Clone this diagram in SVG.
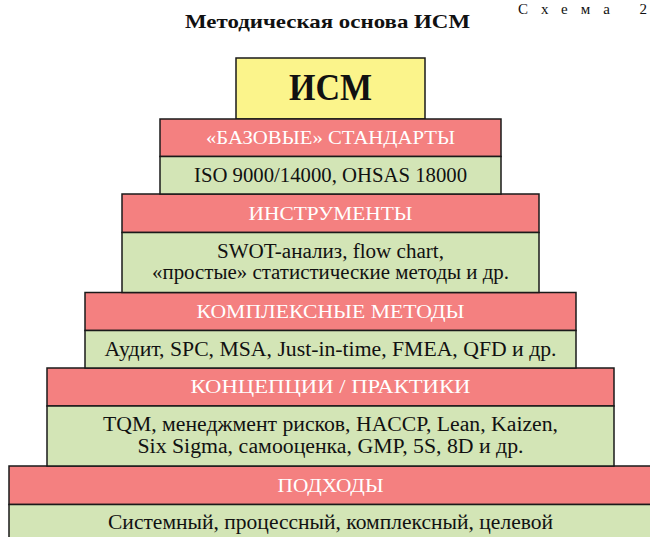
<svg xmlns="http://www.w3.org/2000/svg" width="650" height="537" viewBox="0 0 650 537">
<style>
.red{fill:#F48080;stroke:#1a1a1a;stroke-width:1.5}
.grn{fill:#D3E5B6;stroke:#1a1a1a;stroke-width:1.5}
.yel{fill:#FBF48B;stroke:#1a1a1a;stroke-width:1.5}
.hd{font-family:"Liberation Serif",serif;font-size:19.5px;fill:#ffffff;text-anchor:middle}
.tx{font-family:"Liberation Serif",serif;font-size:20px;fill:#111111;text-anchor:middle}
.tt{font-family:"Liberation Serif",serif;font-weight:bold;fill:#111111}
.sc{font-family:"Liberation Serif",serif;font-size:15px;fill:#111111}
</style>
<rect width="650" height="537" fill="#ffffff"/>
<text class="sc" x="518" y="14" textLength="129" lengthAdjust="spacing">Схема 2</text>
<text class="tt" x="185" y="28" font-size="19.5" textLength="285" lengthAdjust="spacingAndGlyphs">Методическая  основа  ИСМ</text>
<g id="ism">
<rect class="yel" x="236" y="58" width="189" height="61"/>
<text class="tt" x="330.5" y="100" font-size="37" text-anchor="middle" textLength="83" lengthAdjust="spacingAndGlyphs">ИСМ</text>
</g>
<g id="level5">
<rect class="red" x="9" y="466" width="660" height="38.5"/>
<rect class="grn" x="9" y="504.5" width="660" height="40"/>
<text class="hd" x="330.5" y="492" textLength="106" lengthAdjust="spacingAndGlyphs">ПОДХОДЫ</text>
<text class="tx" x="330.5" y="529" textLength="445" lengthAdjust="spacingAndGlyphs">Системный, процессный, комплексный, целевой</text>
</g>
<g id="level4">
<rect class="red" x="47" y="368" width="567" height="38"/>
<rect class="grn" x="47" y="406" width="567" height="60"/>
<text class="hd" x="330.5" y="393" textLength="280" lengthAdjust="spacingAndGlyphs">КОНЦЕПЦИИ / ПРАКТИКИ</text>
<text class="tx" x="330.5" y="431" textLength="455" lengthAdjust="spacingAndGlyphs">TQM, менеджмент рисков, HACCP, Lean, Kaizen,</text>
<text class="tx" x="330.5" y="453" textLength="386" lengthAdjust="spacingAndGlyphs">Six Sigma, самооценка, GMP, 5S, 8D и др.</text>
</g>
<g id="level3">
<rect class="red" x="85" y="292.5" width="491" height="38"/>
<rect class="grn" x="85" y="330.5" width="491" height="37.5"/>
<text class="hd" x="330.5" y="318" textLength="268" lengthAdjust="spacingAndGlyphs">КОМПЛЕКСНЫЕ МЕТОДЫ</text>
<text class="tx" x="330.5" y="356" textLength="452" lengthAdjust="spacingAndGlyphs">Аудит, SPC, MSA, Just-in-time, FMEA, QFD и др.</text>
</g>
<g id="level2">
<rect class="red" x="122" y="194" width="417" height="38.5"/>
<rect class="grn" x="122" y="232.5" width="417" height="60"/>
<text class="hd" x="330.5" y="219.5" textLength="164" lengthAdjust="spacingAndGlyphs">ИНСТРУМЕНТЫ</text>
<text class="tx" x="330.5" y="258" textLength="227" lengthAdjust="spacingAndGlyphs">SWOT-анализ, flow chart,</text>
<text class="tx" x="330.5" y="279" textLength="357" lengthAdjust="spacingAndGlyphs">«простые» статистические методы и др.</text>
</g>
<g id="level1">
<rect class="red" x="160" y="119" width="341" height="37.5"/>
<rect class="grn" x="160" y="156.5" width="341" height="37.5"/>
<text class="hd" x="330.5" y="144" textLength="249" lengthAdjust="spacingAndGlyphs">«БАЗОВЫЕ» СТАНДАРТЫ</text>
<text class="tx" x="330.5" y="182" textLength="273" lengthAdjust="spacingAndGlyphs">ISO 9000/14000, OHSAS 18000</text>
</g>
<g id="connectors"></g>
</svg>
